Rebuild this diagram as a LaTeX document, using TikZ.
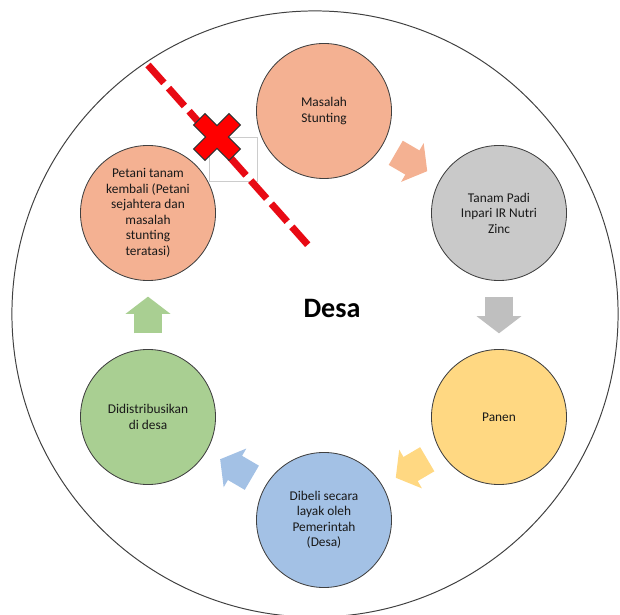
\documentclass[tikz,border=0pt]{standalone}
\usepackage{fontspec}
\setmainfont{Carlito}
\usetikzlibrary{arrows.meta,calc}

\definecolor{salmon}{RGB}{244,177,146}
\definecolor{greyfill}{RGB}{201,201,201}
\definecolor{sun}{RGB}{255,216,130}
\definecolor{sky}{RGB}{163,193,229}
\definecolor{leaf}{RGB}{169,207,146}
\definecolor{cutred}{RGB}{232,10,20}

\tikzset{
  stage/.style={circle, draw=black!75, line width=0.6pt, minimum size=3.375cm,
    inner sep=0pt, align=center, text=black!90,
    font=\fontsize{9.5}{11}\selectfont},
  flow/.style={line width=0.7cm, -{Triangle[length=0.43cm,width=1.1cm]}},
}

\begin{document}
\begin{tikzpicture}[x=0.025cm, y=-0.025cm]
  \useasboundingbox (0,0) rectangle (620,615);

  % Lingkaran desa
  \node[circle, draw=black!75, line width=0.7pt, minimum size=15.15cm, inner sep=0pt] (village) at (315,314) {};
  \node[font=\fontsize{20}{24}\selectfont\bfseries] (desa) at (332,308) {Desa};

  % Sisa panah yang dihapus
  \node[draw=black!20, line width=0.4pt, minimum width=1.2cm, minimum height=1.1cm, inner sep=0pt] (sisa) at (233,159) {};

  % Tahapan
  \node[stage, fill=salmon] (masalah) at (324,111) {Masalah\\Stunting};
  \node[stage, fill=greyfill] (tanam) at (499,213) {Tanam Padi\\Inpari IR Nutri\\Zinc};
  \node[stage, fill=sun] (panen) at (499,417) {Panen};
  \node[stage, fill=sky] (dibeli) at (324,520) {Dibeli secara\\layak oleh\\Pemerintah\\(Desa)};
  \node[stage, fill=leaf] (distribusi) at (148,417) {Didistribusikan\\di desa};
  \node[stage, fill=salmon] (petani) at (148,213) {Petani tanam\\kembali (Petani\\sejahtera dan\\masalah\\stunting\\teratasi)};

  % Panah
  \draw[flow, salmon] ($(masalah)!0.41!(tanam)$) -- ($(masalah)!0.59!(tanam)$);
  \draw[flow, greyfill!95!black] ($(tanam)!0.41!(panen)$) -- ($(tanam)!0.59!(panen)$);
  \draw[flow, sun] ($(panen)!0.41!(dibeli)$) -- ($(panen)!0.59!(dibeli)$);
  \draw[flow, sky] ($(dibeli)!0.41!(distribusi)$) -- ($(dibeli)!0.59!(distribusi)$);
  \draw[flow, leaf] ($(distribusi)!0.41!(petani)$) -- ($(distribusi)!0.59!(petani)$);

  % Garis potong dan tanda silang
  \coordinate (cut1) at (148,65);
  \coordinate (cut2) at (308,245);
  \draw[cutred, line width=5pt, dash pattern=on 17pt off 5pt] (cut1) -- (cut2);
  \draw[fill=red, draw=black!80, line width=0.8pt, shift={(217,137)}, rotate=45]
    (-25,-8) -- (-8,-8) -- (-8,-25) -- (8,-25) -- (8,-8) -- (25,-8) -- (25,8)
    -- (8,8) -- (8,25) -- (-8,25) -- (-8,8) -- (-25,8) -- cycle;
\end{tikzpicture}
\end{document}
